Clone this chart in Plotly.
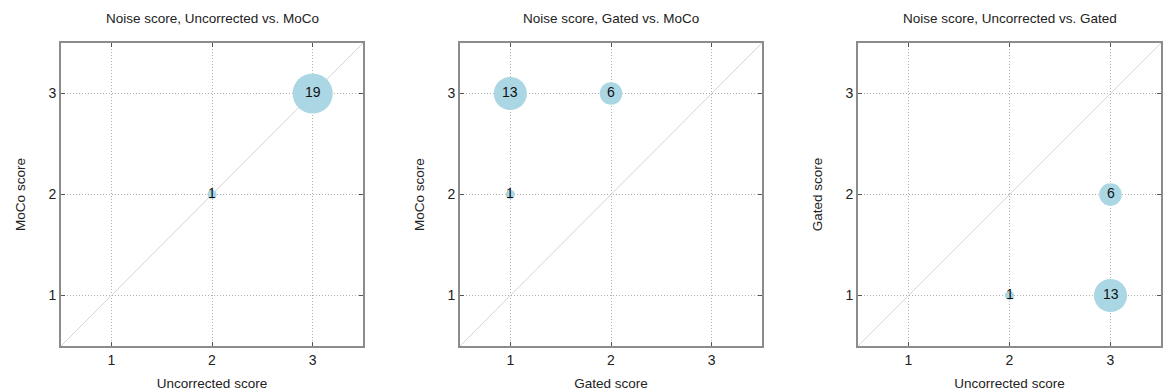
import numpy as np
import plotly.graph_objects as go

# Panel definitions: titles, axis labels, and bubble data (score pairs with counts)
titles = [
    "Noise score, Uncorrected vs. MoCo",
    "Noise score, Gated vs. MoCo",
    "Noise score, Uncorrected vs. Gated",
]
x_labels = ["Uncorrected score", "Gated score", "Uncorrected score"]
y_labels = ["MoCo score", "MoCo score", "Gated score"]

p1_x = [2, 3]
p1_y = [2, 3]
p1_n = [1, 19]

p2_x = [1, 2, 1]
p2_y = [3, 3, 2]
p2_n = [13, 6, 1]

p3_x = [3, 2, 3]
p3_y = [2, 1, 1]
p3_n = [6, 1, 13]

panels = [(p1_x, p1_y, p1_n), (p2_x, p2_y, p2_n), (p3_x, p3_y, p3_n)]

tick_vals = [1, 2, 3]
tick_text = ["1", "2", "3"]
axis_range = [0.5, 3.5]

W, H = 1167, 391
x_domains_px = [(61, 363), (460, 762), (858, 1161)]
y_top_px, y_bot_px = 43, 346
y_domain = [1 - y_bot_px / H, 1 - y_top_px / H]

FONT = "Liberation Sans, Arial, sans-serif"
BUBBLE = "#aad7e3"
TXT = "#222222"

fig = go.Figure()

for i, (xs, ys, ns) in enumerate(panels):
    k = "" if i == 0 else str(i + 1)
    xa, ya = "x" + k, "y" + k

    # identity diagonal
    fig.add_trace(go.Scatter(
        x=axis_range, y=axis_range, mode="lines",
        line=dict(color="#d4d4d4", width=1),
        xaxis=xa, yaxis=ya, hoverinfo="skip", showlegend=False,
    ))
    # bubbles sized by count (area proportional to n)
    fig.add_trace(go.Scatter(
        x=xs, y=ys, mode="markers",
        marker=dict(size=[9.2 * np.sqrt(n) for n in ns], sizemode="diameter",
                    color=BUBBLE, line=dict(width=0), opacity=1),
        xaxis=xa, yaxis=ya, showlegend=False,
    ))
    # count labels, sitting slightly above the bubble centres
    for x, y, n in zip(xs, ys, ns):
        fig.add_annotation(
            x=x, y=y, xref=xa, yref=ya, text=str(n), showarrow=False,
            yshift=2, font=dict(family=FONT, size=14, color="#111111"),
        )

    d = x_domains_px[i]
    common = dict(
        range=axis_range, tickvals=tick_vals, ticktext=tick_text,
        showgrid=True, gridcolor="#b0b0b0", griddash="1px,2px", gridwidth=1,
        showline=True, linecolor="#8c8c8c", linewidth=2, mirror="ticks",
        ticks="inside", ticklen=4, tickcolor="#555555", tickwidth=1,
        zeroline=False, fixedrange=True,
        tickfont=dict(family=FONT, size=14, color=TXT),
    )
    fig.update_layout(**{
        "xaxis" + k: dict(
            domain=[d[0] / W, d[1] / W], anchor=ya,
            title=dict(text=x_labels[i], standoff=12,
                       font=dict(family=FONT, size=13.5, color=TXT)),
            **common),
        "yaxis" + k: dict(
            domain=y_domain, anchor=xa,
            title=dict(text=y_labels[i], standoff=20,
                       font=dict(family=FONT, size=13.5, color=TXT)),
            **common),
    })
    fig.add_annotation(
        text=titles[i], x=(d[0] + d[1]) / 2 / W, y=1 - 19 / H,
        xref="paper", yref="paper", showarrow=False,
        xanchor="center", yanchor="middle",
        font=dict(family=FONT, size=13.5, color=TXT),
    )

fig.update_layout(
    width=W, height=H,
    margin=dict(l=0, r=0, t=0, b=0),
    paper_bgcolor="white", plot_bgcolor="white",
)

fig.write_html("out.html")
